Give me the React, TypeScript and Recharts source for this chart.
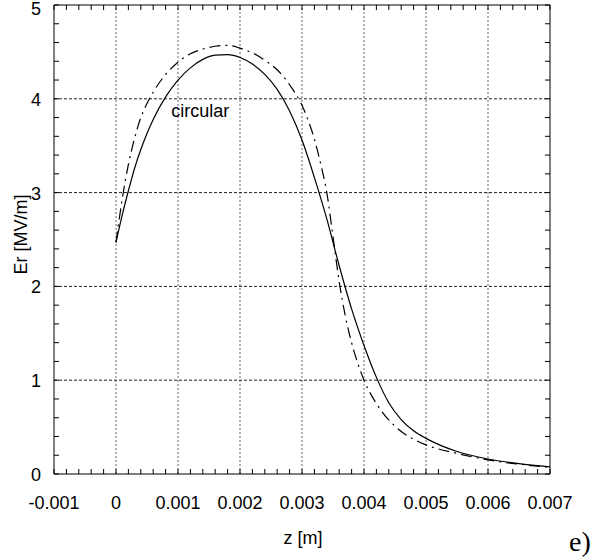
import React from 'react';
import { LineChart, Line, XAxis, YAxis, ReferenceLine, ReferenceDot } from 'recharts';

// solid curve
const zSolid = [0, 0.0001, 0.0002, 0.0003, 0.0004, 0.0005, 0.0006, 0.0008, 0.001, 0.0012, 0.0014, 0.0016, 0.0018, 0.002, 0.0022, 0.0024, 0.0026, 0.0028, 0.003, 0.0032, 0.0034, 0.0036, 0.0038, 0.004, 0.0042, 0.0044, 0.0046, 0.0048, 0.005, 0.0055, 0.006, 0.0065, 0.007];
const erSolid = [2.47, 2.76, 3.02, 3.26, 3.46, 3.63, 3.78, 4.02, 4.20, 4.33, 4.42, 4.465, 4.47, 4.44, 4.37, 4.26, 4.10, 3.87, 3.56, 3.16, 2.72, 2.22, 1.76, 1.37, 1.03, 0.76, 0.58, 0.46, 0.38, 0.24, 0.16, 0.11, 0.075];

// dashed curve
const zDashed = [0, 0.0001, 0.0002, 0.0003, 0.0004, 0.0005, 0.0006, 0.0008, 0.001, 0.0012, 0.0014, 0.0016, 0.0018, 0.002, 0.0022, 0.0024, 0.0026, 0.0028, 0.003, 0.0031, 0.0032, 0.0033, 0.0034, 0.0035, 0.0036, 0.0037, 0.0038, 0.0039, 0.004, 0.0042, 0.0045, 0.0048, 0.005, 0.0055, 0.006, 0.0065, 0.007];
const erDashed = [2.47, 2.93, 3.30, 3.58, 3.80, 3.95, 4.07, 4.26, 4.39, 4.48, 4.53, 4.56, 4.57, 4.54, 4.49, 4.41, 4.31, 4.15, 3.93, 3.77, 3.57, 3.31, 3.0, 2.53, 2.05, 1.68, 1.40, 1.18, 1.0, 0.75, 0.51, 0.37, 0.31, 0.22, 0.15, 0.105, 0.07];

const xMajorTicks = [-0.001, 0, 0.001, 0.002, 0.003, 0.004, 0.005, 0.006, 0.007];
const xTickLabels = ['-0.001', '0', '0.001', '0.002', '0.003', '0.004', '0.005', '0.006', '0.007'];
const yMajorTicks = [0, 1, 2, 3, 4, 5];
const yTickLabels = ['0', '1', '2', '3', '4', '5'];
const xGridLines = [0, 0.001, 0.002, 0.003, 0.004, 0.005, 0.006];
const yGridLines = [1, 2, 3, 4];

// 5 minor steps between each pair of major ticks
const xMinorTicks = xMajorTicks.slice(0, -1)
  .flatMap(v => [0, 1, 2, 3, 4].map(k => +(v + k * 0.0002).toFixed(4)))
  .concat(0.007);
const yMinorTicks = yMajorTicks.slice(0, -1)
  .flatMap(v => [0, 1, 2, 3, 4].map(k => +(v + k * 0.2).toFixed(1)))
  .concat(5);

const solidData = zSolid.map((z, i) => ({ z, er: erSolid[i] }));
const dashedData = zDashed.map((z, i) => ({ z, er: erDashed[i] }));

const FONT = '"Liberation Sans", Arial, Helvetica, sans-serif';
const TICK_LEN = 5;

const majorIndex = (list: number[], v: number) => list.findIndex(m => Math.abs(m - v) < 1e-9);

const BottomTick = (props: any) => {
  const { x, y, payload } = props;
  const idx = majorIndex(xMajorTicks, payload.value);
  return (
    <g>
      <line x1={x} x2={x} y1={y} y2={y - TICK_LEN} stroke="#000" />
      {idx >= 0 && (
        <text x={x} y={y + 35} textAnchor="middle" fontSize={18} fontFamily={FONT} fill="#000">
          {xTickLabels[idx]}
        </text>
      )}
    </g>
  );
};

const TopTick = (props: any) => {
  const { x, y } = props;
  return <line x1={x} x2={x} y1={y} y2={y + TICK_LEN} stroke="#000" />;
};

const LeftTick = (props: any) => {
  const { x, y, payload } = props;
  const idx = majorIndex(yMajorTicks, payload.value);
  return (
    <g>
      <line x1={x} x2={x + TICK_LEN} y1={y} y2={y} stroke="#000" />
      {idx >= 0 && (
        <text x={x - 13} y={Math.max(y + 7, 15)} textAnchor="end" fontSize={18} fontFamily={FONT} fill="#000">
          {yTickLabels[idx]}
        </text>
      )}
    </g>
  );
};

const RightTick = (props: any) => {
  const { x, y } = props;
  return <line x1={x} x2={x - TICK_LEN} y1={y} y2={y} stroke="#000" />;
};

const XTitle = (props: any) => {
  const vb = props.viewBox;
  return (
    <text x={vb.x + vb.width / 2 + 1} y={vb.y + 70} textAnchor="middle" fontSize={18} fontFamily={FONT} fill="#000">
      z [m]
    </text>
  );
};

const YTitle = (props: any) => {
  const vb = props.viewBox;
  const cx = 27;
  const cy = vb.y + vb.height / 2 - 5;
  return (
    <text x={cx} y={cy} transform={`rotate(-90, ${cx}, ${cy})`} textAnchor="middle" fontSize={18} fontFamily={FONT} fill="#000">
      Er [MV/m]
    </text>
  );
};

const axisCommon = {
  type: 'number' as const,
  tickLine: false,
  tickSize: 0,
  tickMargin: 0,
  interval: 0 as const,
  axisLine: { stroke: '#000', strokeWidth: 1 },
  allowDataOverflow: true,
};

export default function App() {
  return (
    <div style={{ position: 'absolute', left: 0, top: 0, width: 604, height: 558, background: '#fff' }}>
      <LineChart width={604} height={558} margin={{ top: 4, right: 53, bottom: 0, left: 0 }}>
        <XAxis xAxisId="b" dataKey="z" orientation="bottom" domain={[-0.001, 0.007]} ticks={xMinorTicks}
          height={84} tick={<BottomTick />} label={<XTitle />} {...axisCommon} />
        <XAxis xAxisId="t" dataKey="z" orientation="top" domain={[-0.001, 0.007]} ticks={xMinorTicks}
          height={1} tick={<TopTick />} {...axisCommon} />
        <YAxis yAxisId="l" dataKey="er" orientation="left" domain={[0, 5]} ticks={yMinorTicks}
          width={54} tick={<LeftTick />} label={<YTitle />} {...axisCommon} />
        <YAxis yAxisId="r" dataKey="er" orientation="right" domain={[0, 5]} ticks={yMinorTicks}
          width={1} tick={<RightTick />} {...axisCommon} />

        {xGridLines.map(v => (
          <ReferenceLine key={'gx' + v} xAxisId="b" yAxisId="l" x={v} stroke="#666" strokeDasharray="2 2" />
        ))}
        {yGridLines.map(v => (
          <ReferenceLine key={'gy' + v} xAxisId="b" yAxisId="l" y={v} stroke="#222" strokeDasharray="3 2" />
        ))}

        <Line xAxisId="b" yAxisId="l" data={dashedData} dataKey="er" type="monotone" stroke="#000"
          strokeWidth={1.2} strokeDasharray="11 5 2 5" dot={false} isAnimationActive={false} />
        <Line xAxisId="b" yAxisId="l" data={solidData} dataKey="er" type="monotone" stroke="#000"
          strokeWidth={1.2} dot={false} isAnimationActive={false} />

        <ReferenceDot xAxisId="b" yAxisId="l" x={0.00136} y={3.87} r={0} fill="none" stroke="none"
          label={{ value: 'circular', position: 'center', fontSize: 18, fontFamily: FONT, fill: '#000' }} />
      </LineChart>
      <div style={{ position: 'absolute', left: 569, top: 527, fontFamily: '"Liberation Serif", "Times New Roman", serif', fontSize: 28, lineHeight: '30px', color: '#000' }}>
        e)
      </div>
    </div>
  );
}
